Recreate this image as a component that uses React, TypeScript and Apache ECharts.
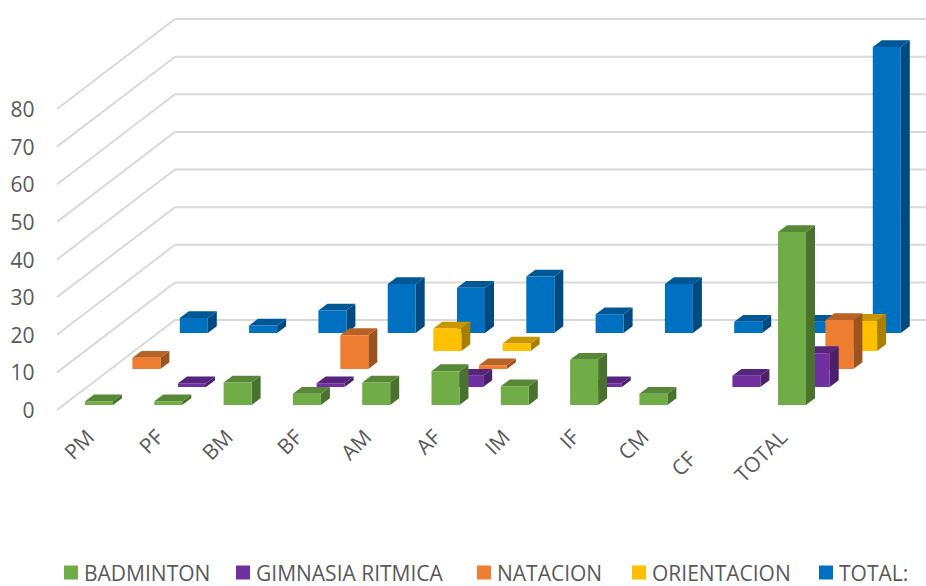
import React, { useEffect, useRef } from "react";
import * as echarts from "echarts";

const categories = ["PM", "PF", "BM", "BF", "AM", "AF", "IM", "IF", "CM", "CF", "TOTAL"];
const badminton = [1, 1, 6, 3, 6, 9, 5, 12, 3, null, 46];
const gimnasia = [null, 1, null, 1, null, 3, null, 1, null, 3, 9];
const natacion = [3, null, null, 9, null, 1, null, null, null, null, 13];
const orientacion = [null, null, null, null, 6, 2, null, null, null, null, 8];
const total = [4, 2, 6, 13, 12, 15, 5, 13, 3, 3, 76];
const yTicks = [0, 10, 20, 30, 40, 50, 60, 70, 80];

const seriesDefs = [
  { name: "BADMINTON", values: badminton, color: "#70AD47", row: 0, legendX: 64 },
  { name: "GIMNASIA RITMICA", values: gimnasia, color: "#7030A0", row: 1, legendX: 236 },
  { name: "NATACION", values: natacion, color: "#ED7D31", row: 2, legendX: 477 },
  { name: "ORIENTACION", values: orientacion, color: "#FFC000", row: 3, legendX: 632 },
  { name: "TOTAL:", values: total, color: "#0070C0", row: 4, legendX: 819 },
];

const FONT = "'Open Sans', sans-serif";
const TEXT = "#595959";
const CENTER0 = 90;
const BAND = 69.3;

function shade(hex: string, k: number) {
  const n = parseInt(hex.slice(1), 16);
  const c = [(n >> 16) & 255, (n >> 8) & 255, n & 255].map((v) => Math.round(v * k));
  return `rgb(${c[0]},${c[1]},${c[2]})`;
}

function barRenderer(color: string, row: number) {
  return (_: any, api: any) => {
    const v = api.value(1);
    if (v == null || isNaN(v)) return null;
    const i = api.value(0);
    const p0 = api.coord([i, 0]);
    const p1 = api.coord([i, v]);
    const w = 28;
    const dx = 9;
    const dy = 6.8;
    const x = p0[0] - 5 + row * 23.7;
    const yb = p0[1] - 5 - row * 18;
    const yt = yb - (p0[1] - p1[1]);
    return {
      type: "group",
      children: [
        { type: "polygon", shape: { points: [[x + w, yb], [x + w + dx, yb - dy], [x + w + dx, yt - dy], [x + w, yt]] }, style: { fill: shade(color, 0.66) } },
        { type: "polygon", shape: { points: [[x, yt], [x + w, yt], [x + w + dx, yt - dy], [x + dx, yt - dy]] }, style: { fill: shade(color, 0.78) } },
        { type: "rect", shape: { x, y: yt, width: w, height: yb - yt }, style: { fill: color } },
      ],
    };
  };
}

function gridRenderer(_: any, api: any) {
  const v = api.value(0);
  const p = api.coord([0, v]);
  const x0 = 57;
  const x1 = 175;
  return {
    type: "polyline",
    shape: { points: [[x0, p[1]], [x1, p[1] - 90], [api.getWidth(), p[1] - 90]] },
    style: { fill: "none", stroke: "#D9D9D9", lineWidth: 2 },
  };
}

export default function App() {
  const ref = useRef<HTMLDivElement>(null);
  useEffect(() => {
    const chart = echarts.init(ref.current!, undefined, { renderer: "svg" });
    const left = CENTER0 - BAND / 2;
    chart.setOption({
      animation: false,
      backgroundColor: "#ffffff",
      grid: { left, width: BAND * categories.length, top: 109, bottom: 176, containLabel: false },
      legend: seriesDefs.map((s) => ({
        left: s.legendX,
        top: 562,
        padding: 0,
        itemWidth: 14,
        itemHeight: 14,
        icon: "rect",
        data: [s.name],
        textStyle: { fontFamily: FONT, fontSize: 21, color: TEXT, padding: [0, 0, 0, 1] },
      })),
      xAxis: {
        type: "category",
        data: categories,
        axisLine: { show: false },
        axisTick: { show: false },
        axisLabel: {
          interval: 0,
          rotate: 45,
          margin: 23,
          fontFamily: FONT,
          fontSize: 21,
          color: TEXT,
          formatter: (v: string) => (v === "CF" ? "{cf|CF}" : v),
          rich: { cf: { fontFamily: FONT, fontSize: 21, color: TEXT, padding: [0, 31, 0, 0] } },
        },
      },
      yAxis: {
        type: "value",
        min: 0,
        max: 80,
        interval: 10,
        splitLine: { show: false },
        axisLine: { show: false },
        axisTick: { show: false },
        axisLabel: { margin: left - 34.5, fontFamily: FONT, fontSize: 21, color: TEXT, padding: [2, 0, 0, 0] },
      },
      series: [
        {
          type: "custom",
          name: "grid",
          silent: true,
          data: yTicks.map((t) => [t]),
          encode: { y: 0 },
          renderItem: gridRenderer,
          z: 1,
        },
        ...[...seriesDefs].reverse().map((s, k) => ({
          type: "custom",
          name: s.name,
          itemStyle: { color: s.color },
          data: s.values.map((v, i) => [i, v]),
          encode: { x: 0, y: 1 },
          renderItem: barRenderer(s.color, s.row),
          z: 2 + k,
        })),
      ],
    });
    return () => chart.dispose();
  }, []);
  return <div ref={ref} style={{ position: "absolute", left: 0, top: 0, width: 926, height: 586 }} />;
}
